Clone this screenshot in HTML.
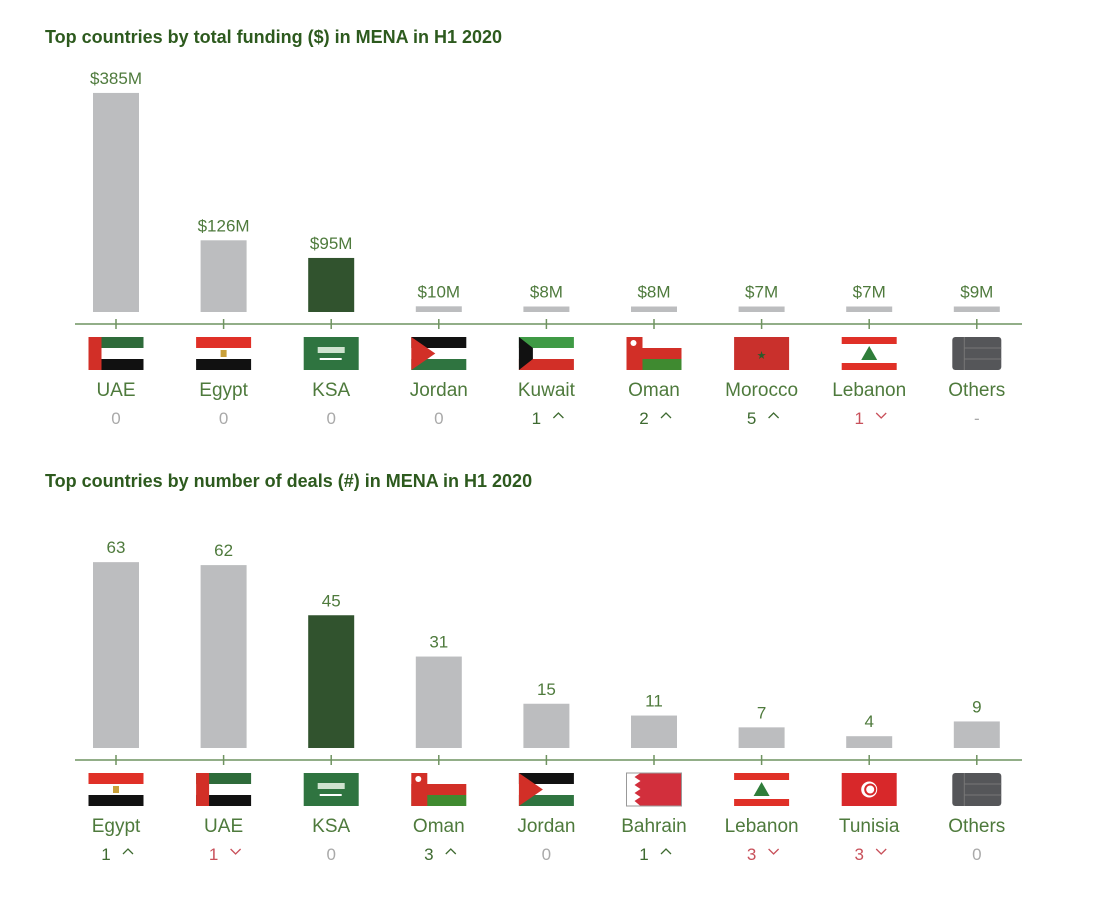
<!DOCTYPE html>
<html><head><meta charset="utf-8"><style>
body{margin:0;background:#fff;font-family:"Liberation Sans",sans-serif;}
svg{display:block}
</style></head><body>
<svg id="c" width="1094" height="898">
<text x="45" y="43" font-size="18" font-weight="bold" fill="#2d5a1e">Top countries by total funding ($) in MENA in H1 2020</text>
<text x="45" y="487" font-size="18" font-weight="bold" fill="#2d5a1e">Top countries by number of deals (#) in MENA in H1 2020</text>
</svg>
<script>
const fundCats=["UAE","Egypt","KSA","Jordan","Kuwait","Oman","Morocco","Lebanon","Others"];
const fundVals=[385,126,95,10,8,8,7,7,9];
const fundLabels=["$385M","$126M","$95M","$10M","$8M","$8M","$7M","$7M","$9M"];
const fundRanks=["0","0","0","0","1 ^","2 ^","5 ^","1 v","-"];
const dealCats=["Egypt","UAE","KSA","Oman","Jordan","Bahrain","Lebanon","Tunisia","Others"];
const dealVals=[63,62,45,31,15,11,7,4,9];
const dealLabels=["63","62","45","31","15","11","7","4","9"];
const dealRanks=["1 ^","1 v","0","3 ^","0","1 ^","3 v","3 v","0"];

const NS="http://www.w3.org/2000/svg",svg=document.getElementById('c');
function mk(t,a,p){const e=document.createElementNS(NS,t);for(const k in a)e.setAttribute(k,a[k]);(p||svg).appendChild(e);return e;}
const xc=i=>116+i*107.6;
function flag(name,x,y,g){
 const w=55,h=33,x0=x-w/2;
 const R=(a,b,c,d,f)=>mk('rect',{x:x0+a,y:y+b,width:c,height:d,fill:f},g);
 if(name=="UAE"){R(0,0,w,11,"#2e6b3a");R(0,11,w,11,"#fff");R(0,22,w,11,"#111");R(0,0,13,h,"#d22f27");}
 else if(name=="Egypt"){R(0,0,w,11,"#e03027");R(0,11,w,11,"#fff");R(0,22,w,11,"#111");R(w/2-3,13,6,7,"#c9a03a");}
 else if(name=="KSA"){R(0,0,w,h,"#2f7440");R(14,10,27,6,"#cfe3cf");R(16,21,22,2,"#fff");}
 else if(name=="Jordan"){R(0,0,w,11,"#111");R(0,11,w,11,"#fff");R(0,22,w,11,"#2f7440");mk('polygon',{points:`${x0},${y} ${x0+24},${y+h/2} ${x0},${y+h}`,fill:"#d22f27"},g);}
 else if(name=="Kuwait"){R(0,0,w,11,"#3f9a45");R(0,11,w,11,"#fff");R(0,22,w,11,"#d22f27");mk('polygon',{points:`${x0},${y} ${x0+14},${y+11} ${x0+14},${y+22} ${x0},${y+h}`,fill:"#111"},g);}
 else if(name=="Oman"){R(0,0,w,11,"#fff");R(0,11,w,11,"#d22f27");R(0,22,w,11,"#3f8a30");R(0,0,16,h,"#d22f27");mk('circle',{cx:x0+7,cy:y+6,r:3,fill:"#fff"},g);}
 else if(name=="Morocco"){R(0,0,w,h,"#c9302c");mk('text',{x:x,y:y+22,'font-size':11,fill:"#2a5a2a",'text-anchor':'middle'},g).textContent="★";}
 else if(name=="Lebanon"){R(0,0,w,h,"#fff");R(0,0,w,7,"#e03027");R(0,26,w,7,"#e03027");mk('polygon',{points:`${x},${y+9} ${x+8},${y+23} ${x-8},${y+23}`,fill:"#2f7d3a"},g);}
 else if(name=="Bahrain"){R(0,0,w,h,"#d22f3c");mk('polygon',{points:`${x0},${y} ${x0+14},${y} ${x0+8},${y+4} ${x0+14},${y+8} ${x0+8},${y+12} ${x0+14},${y+16} ${x0+8},${y+20} ${x0+14},${y+24} ${x0+8},${y+28} ${x0+14},${y+33} ${x0},${y+33}`,fill:"#fff"},g);mk('rect',{x:x0,y:y,width:w,height:h,fill:"none",stroke:"#999","stroke-width":1},g);}
 else if(name=="Tunisia"){R(0,0,w,h,"#d8282a");mk('circle',{cx:x,cy:y+h/2,r:8,fill:"#fff"},g);mk('circle',{cx:x+1,cy:y+h/2,r:5,fill:"none",stroke:"#d8282a","stroke-width":2},g);}
 else {mk('rect',{x:x0+3,y:y,width:w-6,height:h,rx:3,fill:"#555659"},g);mk('line',{x1:x0+15,y1:y,x2:x0+15,y2:y+h,stroke:"#777"},g);mk('line',{x1:x0+15,y1:y+11,x2:x0+w-3,y2:y+11,stroke:"#777"},g);mk('line',{x1:x0+15,y1:y+22,x2:x0+w-3,y2:y+22,stroke:"#777"},g);}
}
function chart(id,cats,vals,labels,ranks,base,scale,minH){
 const axis=base+12;
 const g=mk('g',{});
 const l=mk('line',{x1:75,x2:1022,y1:axis,y2:axis,stroke:"#6f9360","stroke-width":1.5},g);
 
 cats.forEach((c,i)=>{
  const x=xc(i),h=Math.max(minH,vals[i]*scale);
  const b=mk('rect',{x:x-23,y:base-h,width:46,height:h,fill:c=="KSA"?"#31532e":"#bcbdbf"},g);
  
  const vt=mk('text',{x:x,y:base-h-9,'font-size':17,fill:"#4e7a3c",'text-anchor':'middle'},g);vt.textContent=labels[i];
  
  mk('line',{x1:x,x2:x,y1:axis-5,y2:axis+5,stroke:"#6f9360","stroke-width":1.5},g);
  flag(c,x,axis+13,g);
  const nt=mk('text',{x:x,y:axis+72,'font-size':19,fill:"#4e7a3c",'text-anchor':'middle'},g);nt.textContent=c;
  
  const r=ranks[i],up=r.endsWith("^"),dn=r.endsWith("v");
  const col=up?"#3e6a30":dn?"#c8505a":"#a9a9a9";
  const num=(up||dn)?r.split(" ")[0]:r;
  const rt=mk('text',{x:(up||dn)?x-10:x,y:axis+100,'font-size':17,fill:col,'text-anchor':'middle'},g);rt.textContent=num;
  
  if(up)mk('polyline',{points:`${x+7},${axis+94} ${x+12},${axis+89} ${x+17},${axis+94}`,fill:"none",stroke:col,"stroke-width":1.3},g);
  if(dn)mk('polyline',{points:`${x+7},${axis+89} ${x+12},${axis+94} ${x+17},${axis+89}`,fill:"none",stroke:col,"stroke-width":1.3},g);
 });
}
chart('funding-chart',fundCats,fundVals,fundLabels,fundRanks,312,0.569,5.5);
chart('deals-chart',dealCats,dealVals,dealLabels,dealRanks,748,2.95,5);
</script>
</body></html>
